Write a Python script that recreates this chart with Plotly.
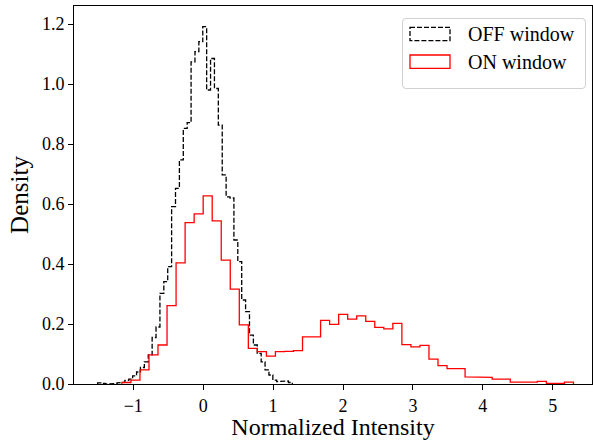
import numpy as np
import plotly.graph_objects as go

# ---- data ----
off_range = (-1.51, 1.275)   # OFF window histogram bin range (50 bins)
off_density = [0.004, 0.002, 0.0, 0.0, 0.002, 0.004, 0.006, 0.012, 0.016, 0.027,
               0.040, 0.055, 0.074, 0.097, 0.155, 0.190, 0.302, 0.341, 0.391, 0.591,
               0.652, 0.747, 0.852, 0.871, 1.074, 1.108, 1.141, 1.191, 0.980, 1.085,
               0.985, 0.863, 0.697, 0.624, 0.620, 0.480, 0.408, 0.280, 0.241, 0.163,
               0.130, 0.102, 0.074, 0.047, 0.030, 0.013, 0.008, 0.008, 0.010, 0.005]

on_range = (-1.163, 5.297)   # ON window histogram bin range (50 bins)
on_density = [0.005, 0.013, 0.047, 0.097, 0.130, 0.261, 0.404, 0.538, 0.567, 0.627,
              0.544, 0.413, 0.316, 0.197, 0.119, 0.108, 0.093, 0.108, 0.109, 0.111,
              0.157, 0.157, 0.212, 0.199, 0.232, 0.216, 0.227, 0.209, 0.189, 0.184,
              0.202, 0.131, 0.124, 0.129, 0.083, 0.061, 0.051, 0.051, 0.024, 0.024,
              0.022, 0.016, 0.016, 0.006, 0.006, 0.006, 0.009, 0.002, 0.002, 0.006]

series_names = ["OFF window", "ON window"]
x_ticks = [-1, 0, 1, 2, 3, 4, 5]
y_ticks = [0.0, 0.2, 0.4, 0.6, 0.8, 1.0, 1.2]


def step_outline(rng, heights):
    edges = np.linspace(rng[0], rng[1], len(heights) + 1)
    xs, ys = [edges[0]], [0.0]
    for i, h in enumerate(heights):
        xs += [edges[i], edges[i + 1]]
        ys += [h, h]
    xs.append(edges[-1])
    ys.append(0.0)
    return xs, ys


FONT = "Liberation Serif"
W, H = 593, 440
ML, MR, MT, MB = 74, 1, 6, 56
PW, PH = W - ML - MR, H - MT - MB


def px(xp):
    return (xp - ML) / PW


def py(yp):
    return (H - MB - yp) / PH


fig = go.Figure()
xo, yo = step_outline(off_range, off_density)
fig.add_trace(go.Scatter(x=xo, y=yo, mode="lines", name=series_names[0],
                         line=dict(color="black", width=1.3, dash="5px,2px"),
                         showlegend=False, hoverinfo="skip"))
xn, yn = step_outline(on_range, on_density)
fig.add_trace(go.Scatter(x=xn, y=yn, mode="lines", name=series_names[1],
                         line=dict(color="#ff0000", width=1.3),
                         showlegend=False, hoverinfo="skip"))

# ---- custom legend (matplotlib-style patches) ----
bx0, bx1, by0, by1, r = 402.5, 585.5, 18.5, 88.5, 3.5


def rounded_rect(x0, y0, x1, y1, rad):
    p = (f"M {px(x0 + rad)} {py(y0)} L {px(x1 - rad)} {py(y0)} "
         f"Q {px(x1)} {py(y0)} {px(x1)} {py(y0 + rad)} "
         f"L {px(x1)} {py(y1 - rad)} Q {px(x1)} {py(y1)} {px(x1 - rad)} {py(y1)} "
         f"L {px(x0 + rad)} {py(y1)} Q {px(x0)} {py(y1)} {px(x0)} {py(y1 - rad)} "
         f"L {px(x0)} {py(y0 + rad)} Q {px(x0)} {py(y0)} {px(x0 + rad)} {py(y0)} Z")
    return p


fig.add_shape(type="path", xref="paper", yref="paper",
              path=rounded_rect(bx0, by0, bx1, by1, r),
              line=dict(color="#d0d0d0", width=1), fillcolor="rgba(255,255,255,0.8)")
patches = [(27.3, 40.7, dict(color="black", width=1.3, dash="5px,2px")),
           (55.0, 68.3, dict(color="#ff0000", width=1.3))]
for (y0, y1, ln), name in zip(patches, series_names):
    fig.add_shape(type="rect", xref="paper", yref="paper",
                  x0=px(410), x1=px(450), y0=py(y0), y1=py(y1),
                  line=ln, fillcolor="rgba(0,0,0,0)")
    fig.add_annotation(xref="paper", yref="paper", x=px(466), y=py((y0 + y1) / 2),
                       xanchor="left", yanchor="middle", text=name, showarrow=False,
                       font=dict(family=FONT, size=20, color="black"))

fig.update_layout(
    width=W, height=H, margin=dict(l=ML, r=MR, t=MT, b=MB),
    plot_bgcolor="white", paper_bgcolor="white",
    font=dict(family=FONT, size=18, color="black"),
)
fig.update_xaxes(range=[-1.848, 5.562], tickvals=x_ticks, ticks="outside", ticklen=5,
                 tickwidth=1, tickcolor="black", showline=True, linecolor="black",
                 linewidth=1, mirror=True, showgrid=False, zeroline=False,
                 tickfont=dict(family=FONT, size=18),
                 title=dict(text="Normalized Intensity", font=dict(family=FONT, size=24),
                            standoff=3))
fig.update_yaxes(range=[0, 1.26], tickvals=y_ticks, tickformat=".1f", ticks="outside",
                 ticklen=5, tickwidth=1, tickcolor="black", showline=True,
                 linecolor="black", linewidth=1, mirror=True, showgrid=False,
                 zeroline=False, tickfont=dict(family=FONT, size=18),
                 title=dict(text="Density", font=dict(family=FONT, size=25), standoff=6))

fig.write_html("out.html")
